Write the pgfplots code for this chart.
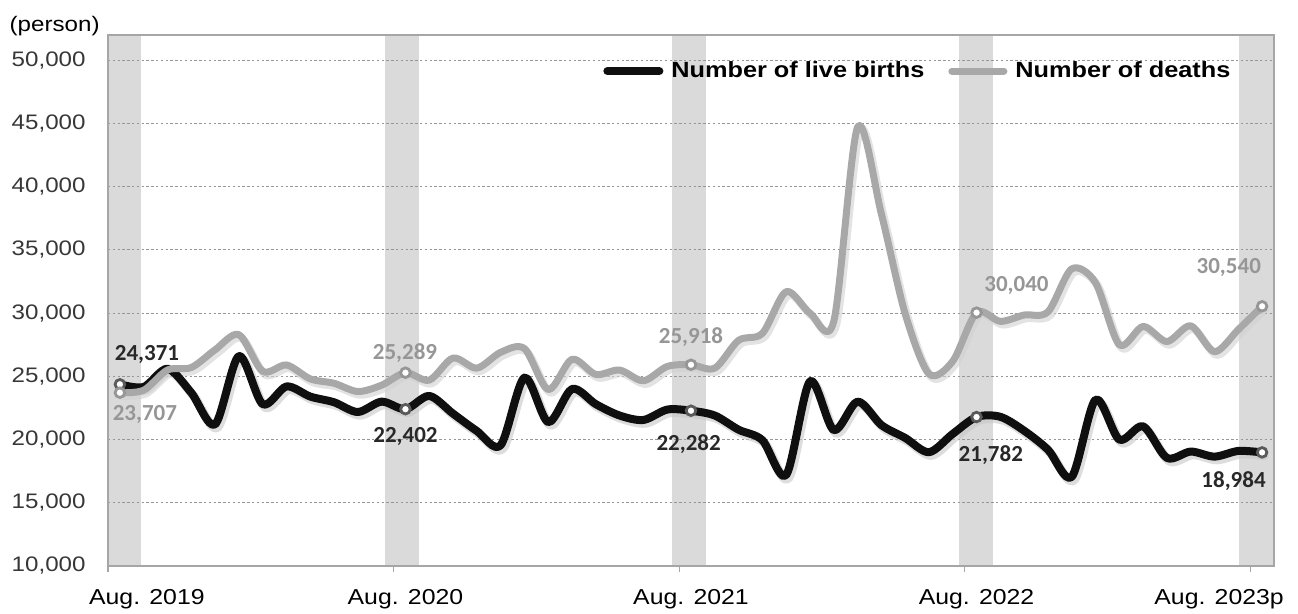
\documentclass[border=0pt]{standalone}
\usepackage{fontspec}
\setmainfont{Liberation Sans}[FakeStretch=1.15]
\newfontfamily\carlito{Carlito}
\usepackage{pgfplots}
\usepackage{pgfplotstable}
\pgfplotsset{compat=1.18}
\definecolor{birthcol}{RGB}{15,15,15}
\definecolor{deathcol}{RGB}{168,168,168}
\definecolor{bandgray}{RGB}{218,218,218}
\definecolor{gridgray}{RGB}{150,150,150}
\definecolor{axisgray}{RGB}{166,166,166}
\definecolor{birthlab}{RGB}{40,40,40}
\definecolor{deathlab}{RGB}{150,150,150}
\definecolor{tickgray}{RGB}{55,55,55}
\definecolor{bmark}{RGB}{90,90,90}
\definecolor{dmark}{RGB}{150,150,150}

\pgfplotstableread{
k births deaths
0 24371 23707
1 24160 23900
2 25600 25500
3 23700 25700
4 21200 27100
5 26600 28300
6 22800 25400
7 24200 25900
8 23400 24800
9 22950 24450
10 22180 23800
11 23000 24300
12 22402 25289
13 23450 24700
14 22050 26450
15 20680 25650
16 19550 26900
17 24900 27200
18 21380 23950
19 24000 26350
20 22800 25150
21 21900 25500
22 21550 24650
23 22370 25780
24 22282 25918
25 21900 25650
26 20780 27850
27 19950 28400
28 17200 31700
29 24600 30000
30 20750 29350
31 23000 44700
32 21150 37850
33 20130 29950
34 19000 25200
35 20450 26200
36 21782 30040
37 21800 29350
38 20700 29850
39 19200 30100
40 17050 33500
41 23150 32400
42 20000 27500
43 21050 28950
44 18550 27750
45 19050 29000
46 18650 26950
47 19100 28700
48 18984 30540
}\datatable

\pgfplotstableread{
k births deaths
0 24371 23707
12 22402 25289
24 22282 25918
36 21782 30040
48 18984 30540
}\augtable

\begin{document}
\begin{tikzpicture}
\begin{axis}[
  set layers,
  at={(0,0)}, anchor=south west,
  scale only axis, width=583pt, height=265.5pt,
  xmin=-0.5, xmax=48.5, ymin=10000, ymax=52000,
  xtick={-0.5,11.5,23.5,35.5,47.5},
  xticklabels={{\hspace*{27pt}Aug. 2019},Aug. 2020,Aug. 2021,Aug. 2022,{Aug. 2023p\hspace*{43pt}}},
  ytick={10000,15000,20000,25000,30000,35000,40000,45000,50000},
  scaled y ticks=false,
  /pgf/number format/1000 sep={,},
  /pgf/number format/assume math mode=true,
  xtick pos=bottom, ytick pos=left,
  tick align=outside, major tick length=3pt,
  xtick style={draw=axisgray, line width=0.6pt},
  ytick style={draw=none},
  axis line style={draw=axisgray, line width=0.6pt},
  ymajorgrids,
  major grid style={draw=gridgray, line width=0.5pt, dash pattern=on 1.2pt off 1.2pt},
  yticklabel style={font=\fontsize{10.5}{12}\selectfont, text=tickgray, inner sep=0pt, xshift=-8pt},
  xticklabel style={font=\fontsize{10.8}{12}\selectfont, text=black, inner sep=0pt, yshift=-8.5pt, xshift=5.95pt},
  legend style={at={(0.4245,0.932)}, anchor=west, draw=none, fill=none, inner sep=0pt,
    font=\bfseries\fontsize{11}{13}\selectfont, nodes={inner sep=0pt},
    /tikz/every odd column/.append style={column sep=4pt},
    /tikz/every even column/.append style={column sep=12pt}},
  legend columns=2,
  legend image code/.code={\draw[#1] (0pt,0pt) -- (26pt,0pt);},
  clip mode=individual,
]
% August bands
\addplot[forget plot, on layer=axis background, fill=bandgray, draw=none] coordinates {(-0.5,10000) (0.87,10000) (0.87,52000) (-0.5,52000)} -- cycle;
\addplot[forget plot, on layer=axis background, fill=bandgray, draw=none] coordinates {(11.13,10000) (12.58,10000) (12.58,52000) (11.13,52000)} -- cycle;
\addplot[forget plot, on layer=axis background, fill=bandgray, draw=none] coordinates {(23.19,10000) (24.62,10000) (24.62,52000) (23.19,52000)} -- cycle;
\addplot[forget plot, on layer=axis background, fill=bandgray, draw=none] coordinates {(35.26,10000) (36.69,10000) (36.69,52000) (35.26,52000)} -- cycle;
\addplot[forget plot, on layer=axis background, fill=bandgray, draw=none] coordinates {(47.05,10000) (48.5,10000) (48.5,52000) (47.05,52000)} -- cycle;

% shadows
\addplot[forget plot, smooth, black!22, line width=4.5pt, line cap=round, line join=round, xshift=1.2pt, yshift=-1.6pt, opacity=0.6] table[x=k, y=births] {\datatable};
\addplot[forget plot, smooth, black!18, line width=4pt, line cap=round, line join=round, xshift=1.2pt, yshift=-1.6pt, opacity=0.6] table[x=k, y=deaths] {\datatable};

\addplot[smooth, birthcol, line width=4pt, line cap=round, line join=round] table[x=k, y=births] {\datatable};
\addlegendentry{Number of live births}
\addplot[smooth, deathcol, line width=3.5pt, line cap=round, line join=round] table[x=k, y=deaths] {\datatable};
\addlegendentry{Number of deaths}

\addplot[forget plot, only marks, mark=*, mark size=2.4pt, mark options={fill=white, draw=bmark, line width=1.4pt}] table[x=k, y=births] {\augtable};
\addplot[forget plot, only marks, mark=*, mark size=2.4pt, mark options={fill=white, draw=dmark, line width=1.4pt}] table[x=k, y=deaths] {\augtable};

\begin{scope}[font=\carlito\bfseries\fontsize{11.5}{13}\selectfont]
\node[text=birthlab] at (axis cs:1.14,26730) {24,371};
\node[text=deathlab] at (axis cs:1.05,21984) {23,707};
\node[text=deathlab] at (axis cs:11.98,26850) {25,289};
\node[text=birthlab] at (axis cs:12.0,20230) {22,402};
\node[text=deathlab] at (axis cs:24.0,28140) {25,918};
\node[text=birthlab] at (axis cs:23.9,19650) {22,282};
\node[text=deathlab] at (axis cs:37.68,32170) {30,040};
\node[text=birthlab] at (axis cs:36.6,18800) {21,782};
\node[text=deathlab] at (axis cs:46.6,33610) {30,540};
\node[text=birthlab] at (axis cs:46.8,16680) {18,984};
\end{scope}
\end{axis}
\node[font=\fontsize{10.5}{12}\selectfont] at (-26.7pt,270pt) {(person)};
\pgfresetboundingbox
\path[use as bounding box] (-54pt,-24pt) rectangle (595pt,283pt);
\end{tikzpicture}
\end{document}
